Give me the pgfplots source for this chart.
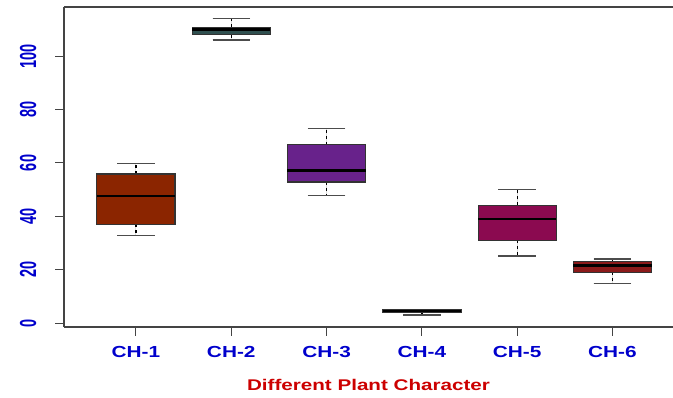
\documentclass[border=0pt]{standalone}
\usepackage{pgfplots}
\pgfplotsset{compat=1.18}
\usepgfplotslibrary{statistics}
\usepackage{fontspec}
\setmainfont{Liberation Sans}
\definecolor{c1}{HTML}{8B2500}
\definecolor{c2}{HTML}{2F4F4F}
\definecolor{c3}{HTML}{68228B}
\definecolor{c4}{HTML}{303030}
\definecolor{c5}{HTML}{8B0A50}
\definecolor{c6}{HTML}{8B1A1A}
\definecolor{tickblue}{HTML}{0000CC}
\definecolor{labred}{HTML}{CC0000}
\definecolor{framec}{HTML}{444444}
\begin{document}
\begin{tikzpicture}
\useasboundingbox (-64pt,-71pt) rectangle (609pt,327pt);
\begin{axis}[
  at={(0pt,0pt)}, anchor=south west,
  scale only axis, width=609pt, height=320pt,
  xmin=0.245, xmax=6.635, ymin=-1.44, ymax=118.44,
  axis x line=box, axis y line=left,
  axis line style={framec, line width=1.3pt, -},
  tick align=outside, major tick length=9pt,
  tick style={framec, line width=1pt},
  xtick={1,2,3,4,5,6},
  xticklabels={\scalebox{1.3}[1]{CH-1},\scalebox{1.3}[1]{CH-2},\scalebox{1.3}[1]{CH-3},\scalebox{1.3}[1]{CH-4},\scalebox{1.3}[1]{CH-5},\scalebox{1.3}[1]{CH-6}},
  xticklabel style={font=\bfseries\fontsize{16}{16}\selectfont, text=tickblue},
  xticklabel shift=7pt,
  ytick={0,20,40,60,80,100},
  /pgf/number format/assume math mode=true,
  yticklabel={\scalebox{1}[1.6]{\pgfmathprintnumber{\tick}}},
  yticklabel style={font=\bfseries\fontsize{14.5}{14.5}\selectfont, text=tickblue, rotate=90, anchor=south},
  yticklabel shift=15pt,
  xtick pos=bottom, ytick pos=left,
  xlabel={\scalebox{1.33}[1]{Different Plant Character}},
  xlabel style={font=\bfseries\fontsize{15.5}{15.5}\selectfont, text=labred, yshift=-15pt},
  boxplot/draw direction=y,
  boxplot/box extend=0.82,
  boxplot/every median/.style={line width=2.6pt, black},
  boxplot/every box/.style={draw=black!80, line width=1.2pt},
  boxplot/draw/lower whisker/.code={
    \draw[black, line width=1.3pt, dash pattern=on 3pt off 3pt] (boxplot box cs:\pgfplotsboxplotvalue{lower quartile},0.5) -- (boxplot box cs:\pgfplotsboxplotvalue{lower whisker},0.5);
    \draw[black!70, line width=1.4pt] (boxplot box cs:\pgfplotsboxplotvalue{lower whisker},0.26) -- (boxplot box cs:\pgfplotsboxplotvalue{lower whisker},0.74);
  },
  boxplot/draw/upper whisker/.code={
    \draw[black, line width=1.3pt, dash pattern=on 3pt off 3pt] (boxplot box cs:\pgfplotsboxplotvalue{upper quartile},0.5) -- (boxplot box cs:\pgfplotsboxplotvalue{upper whisker},0.5);
    \draw[black!70, line width=1.4pt] (boxplot box cs:\pgfplotsboxplotvalue{upper whisker},0.26) -- (boxplot box cs:\pgfplotsboxplotvalue{upper whisker},0.74);
  },
]
\addplot+[boxplot prepared={draw position=1, lower whisker=32.8, lower quartile=37.0, median=47.6, upper quartile=55.9, upper whisker=59.9}, fill=c1, draw=black!80, solid, mark=none] coordinates {};
\addplot+[boxplot prepared={draw position=2, lower whisker=106.1, lower quartile=108.1, median=109.9, upper quartile=110.9, upper whisker=114.1}, fill=c2, draw=black!80, solid, mark=none] coordinates {};
\addplot+[boxplot prepared={draw position=3, lower whisker=47.8, lower quartile=52.9, median=57.2, upper quartile=66.9, upper whisker=73.0}, fill=c3, draw=black!80, solid, mark=none] coordinates {};
\addplot+[boxplot prepared={draw position=4, lower whisker=3.0, lower quartile=4.0, median=4.5, upper quartile=5.0, upper whisker=5.2}, fill=c4, draw=black!80, solid, mark=none] coordinates {};
\addplot+[boxplot prepared={draw position=5, lower whisker=25.1, lower quartile=31.1, median=39.0, upper quartile=44.1, upper whisker=50.1}, fill=c5, draw=black!80, solid, mark=none] coordinates {};
\addplot+[boxplot prepared={draw position=6, lower whisker=14.9, lower quartile=19.0, median=21.5, upper quartile=23.0, upper whisker=24.0}, fill=c6, draw=black!80, solid, mark=none] coordinates {};
\end{axis}
\end{tikzpicture}
\end{document}
